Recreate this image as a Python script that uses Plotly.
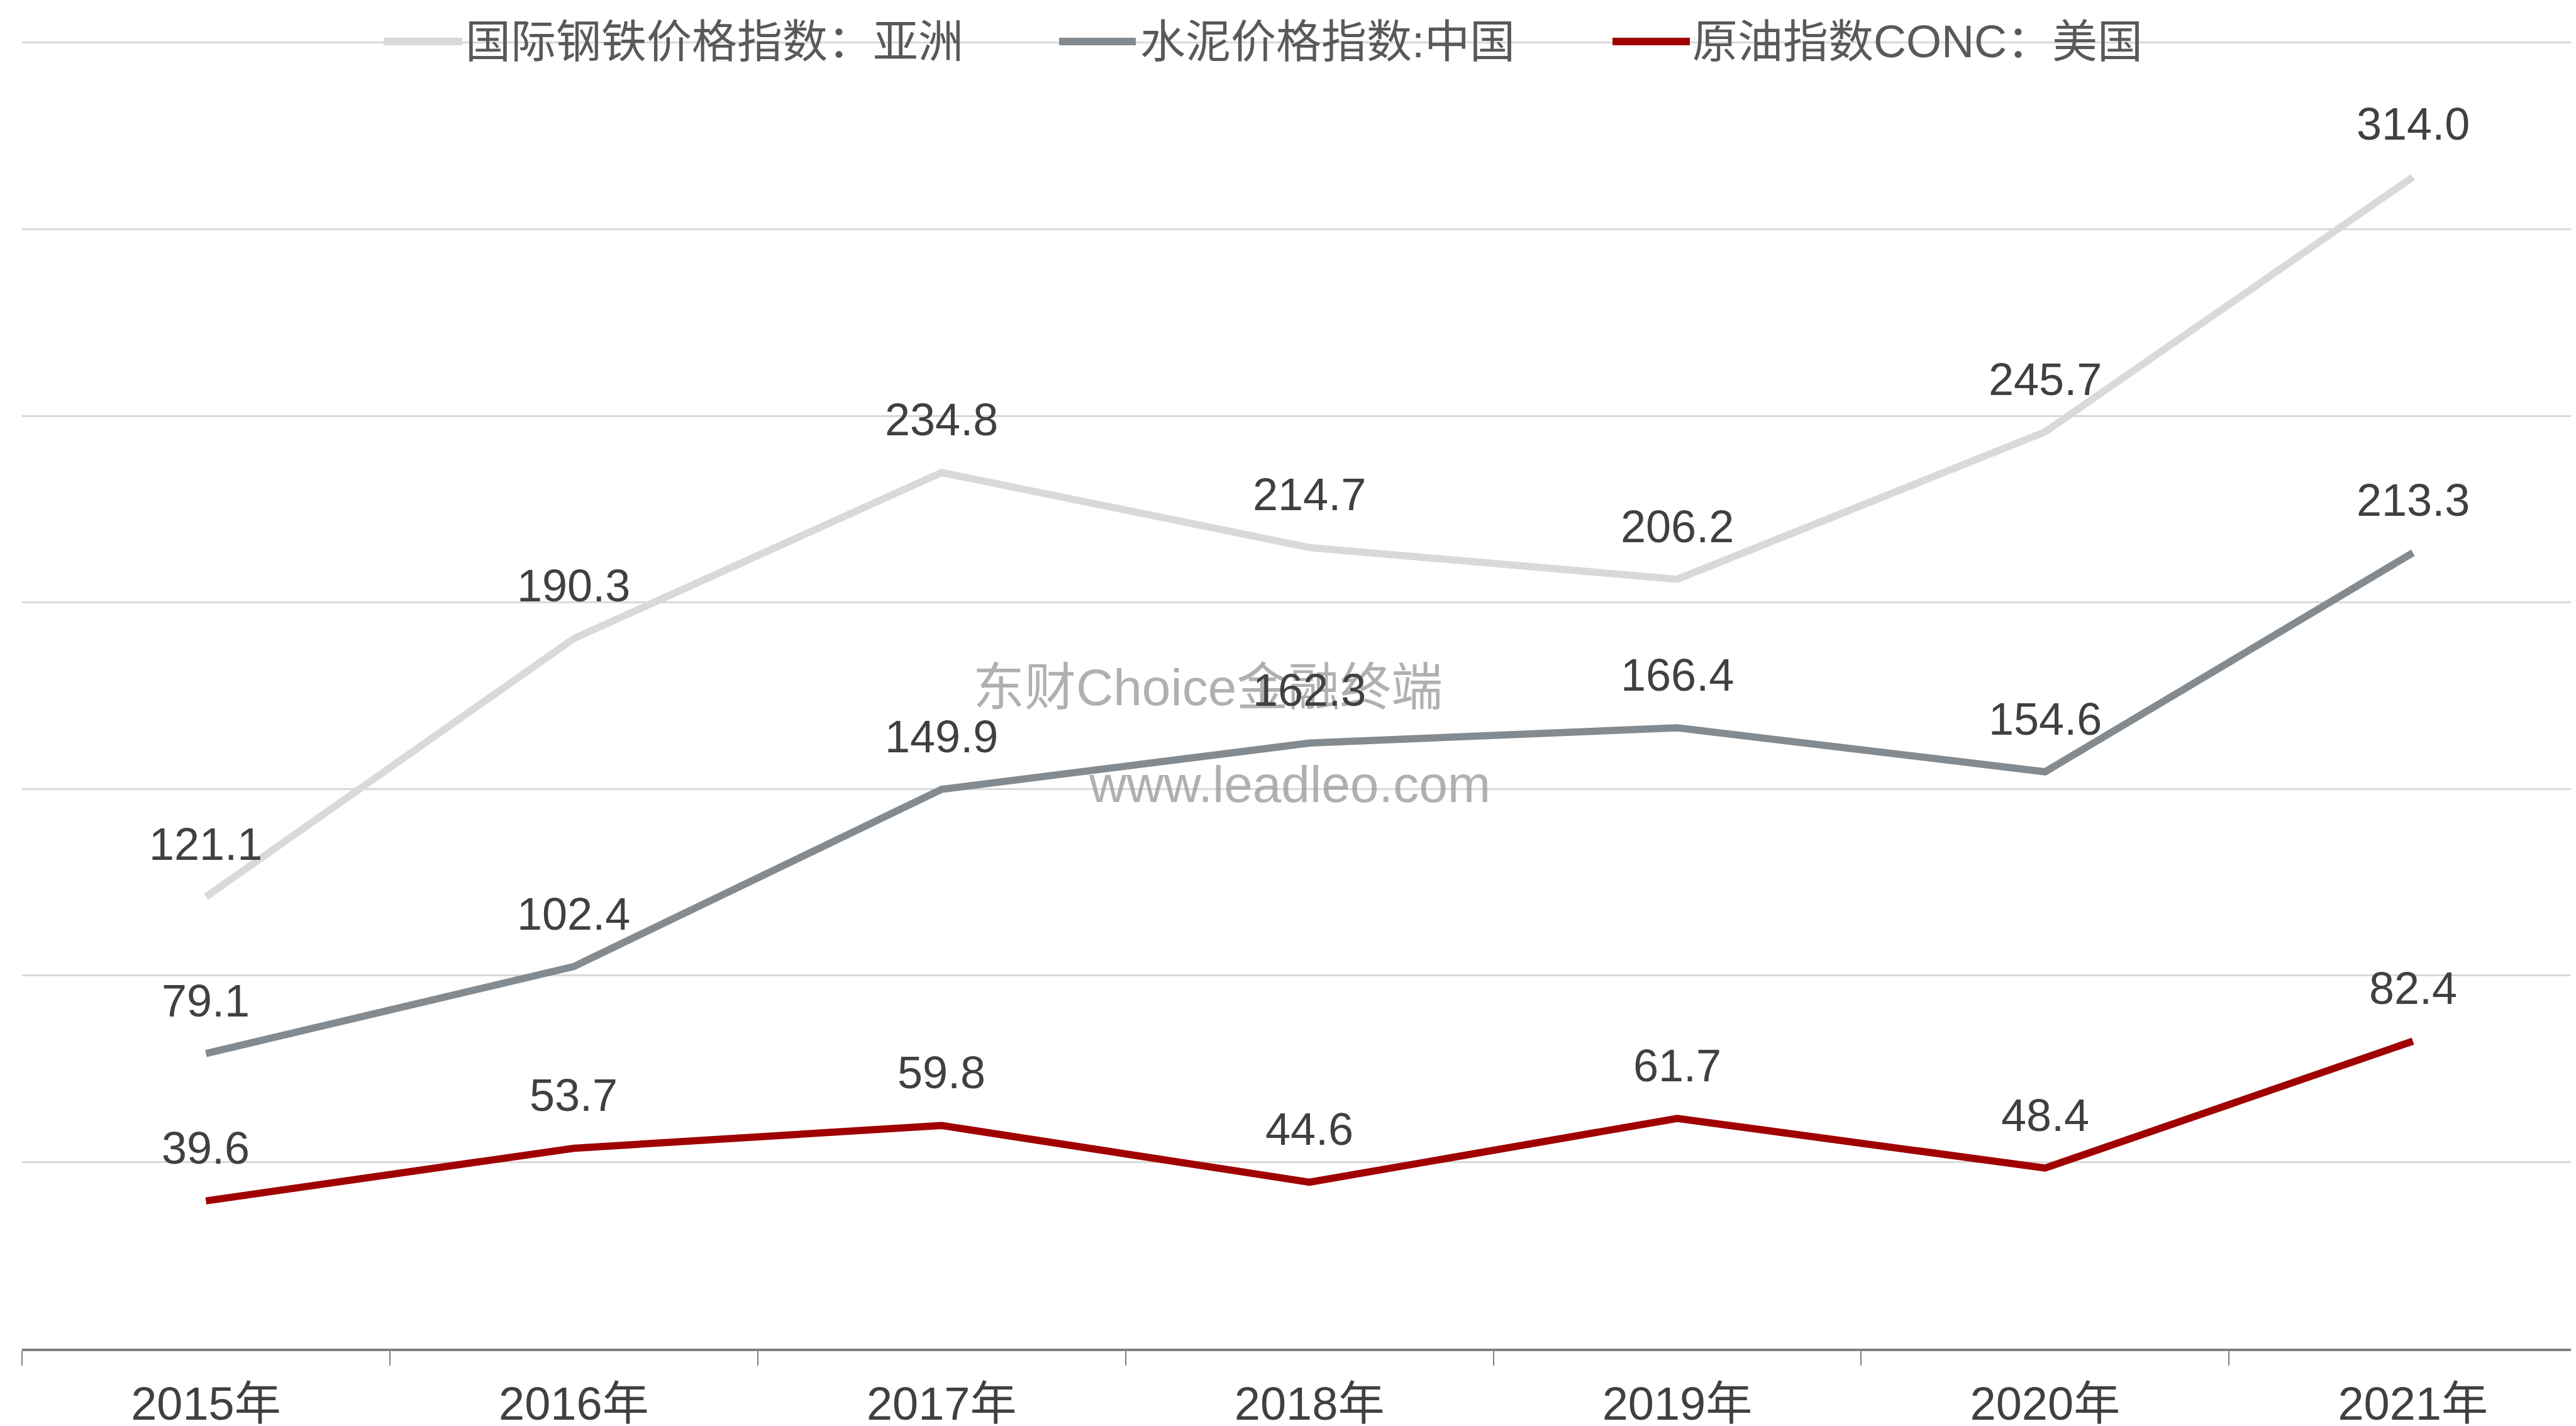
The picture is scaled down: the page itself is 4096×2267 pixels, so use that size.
import plotly.graph_objects as go

years = ["2015年", "2016年", "2017年", "2018年", "2019年", "2020年", "2021年"]
steel = [121.1, 190.3, 234.8, 214.7, 206.2, 245.7, 314.0]
cement = [79.1, 102.4, 149.9, 162.3, 166.4, 154.6, 213.3]
oil = [39.6, 53.7, 59.8, 44.6, 61.7, 48.4, 82.4]
names = ["国际钢铁价格指数：亚洲", "水泥价格指数:中国", "原油指数CONC：美国"]
colors = ["#d9d9d9", "#838b91", "#a00000"]
series = [steel, cement, oil]

W, H = 4096, 2267
ML, MR, MT, MB = 27, 0, 54, 131
FONT = "Liberation Sans, Arial, Noto Sans CJK SC, sans-serif"

fig = go.Figure()
for name, vals, col in zip(names, series, colors):
    fig.add_trace(go.Scatter(x=years, y=vals, mode="lines", name=name,
                             line=dict(color=col, width=11.5), showlegend=False,
                             hoverinfo="skip"))

def px_to_paper_x(px):
    return (px - ML) / (W - ML - MR)

def px_to_paper_y(py):
    return (H - MB - py) / (H - MB - MT)

# watermark
fig.add_annotation(text="东财Choice金融终端", x=px_to_paper_x(1912), y=px_to_paper_y(1084),
                   xref="paper", yref="paper", showarrow=False,
                   font=dict(family=FONT, size=82, color="rgba(150,150,150,0.75)"))
fig.add_annotation(text="www.leadleo.com", x=px_to_paper_x(2042), y=px_to_paper_y(1238),
                   xref="paper", yref="paper", showarrow=False,
                   font=dict(family=FONT, size=82, color="rgba(150,150,150,0.75)"))

# data labels
for vals in series:
    for xv, yv in zip(years, vals):
        fig.add_annotation(x=xv, y=yv, text=f"{yv:.1f}", showarrow=False, yshift=84,
                           font=dict(family=FONT, size=72, color="#404040"))

# manual legend
legend_items = [(602, 727, 730), (1676, 1798, 1803), (2556, 2679, 2681)]
ly = px_to_paper_y(58)
for (x0, x1, tx), name, col in zip(legend_items, names, colors):
    fig.add_shape(type="line", xref="paper", yref="paper",
                  x0=px_to_paper_x(x0), x1=px_to_paper_x(x1), y0=ly, y1=ly,
                  line=dict(color=col, width=12))
    fig.add_annotation(text=name, x=px_to_paper_x(tx), y=ly, xref="paper", yref="paper",
                       xanchor="left", yanchor="middle", showarrow=False,
                       font=dict(family=FONT, size=72, color="#595959"))

fig.update_layout(
    width=W, height=H,
    margin=dict(l=ML, r=MR, t=MT, b=MB),
    paper_bgcolor="white", plot_bgcolor="white",
    showlegend=False,
    font=dict(family=FONT, size=72, color="#404040"),
    xaxis=dict(type="category", range=[-0.5, 6.457], tickson="boundaries",
               ticks="outside", ticklen=23, tickwidth=2, tickcolor="#808080",
               showline=True, linecolor="#808080", linewidth=4,
               showgrid=False, zeroline=False, ticklabelstandoff=20,
               tickfont=dict(family=FONT, size=74, color="#404040")),
    yaxis=dict(range=[0, 351], tickmode="array", tickvals=[50, 100, 150, 200, 250, 300, 350],
               showticklabels=False,
               showgrid=True, gridcolor="#d9d9d9", gridwidth=3,
               zeroline=False, showline=False, ticks=""),
)

fig.write_html("out.html")
